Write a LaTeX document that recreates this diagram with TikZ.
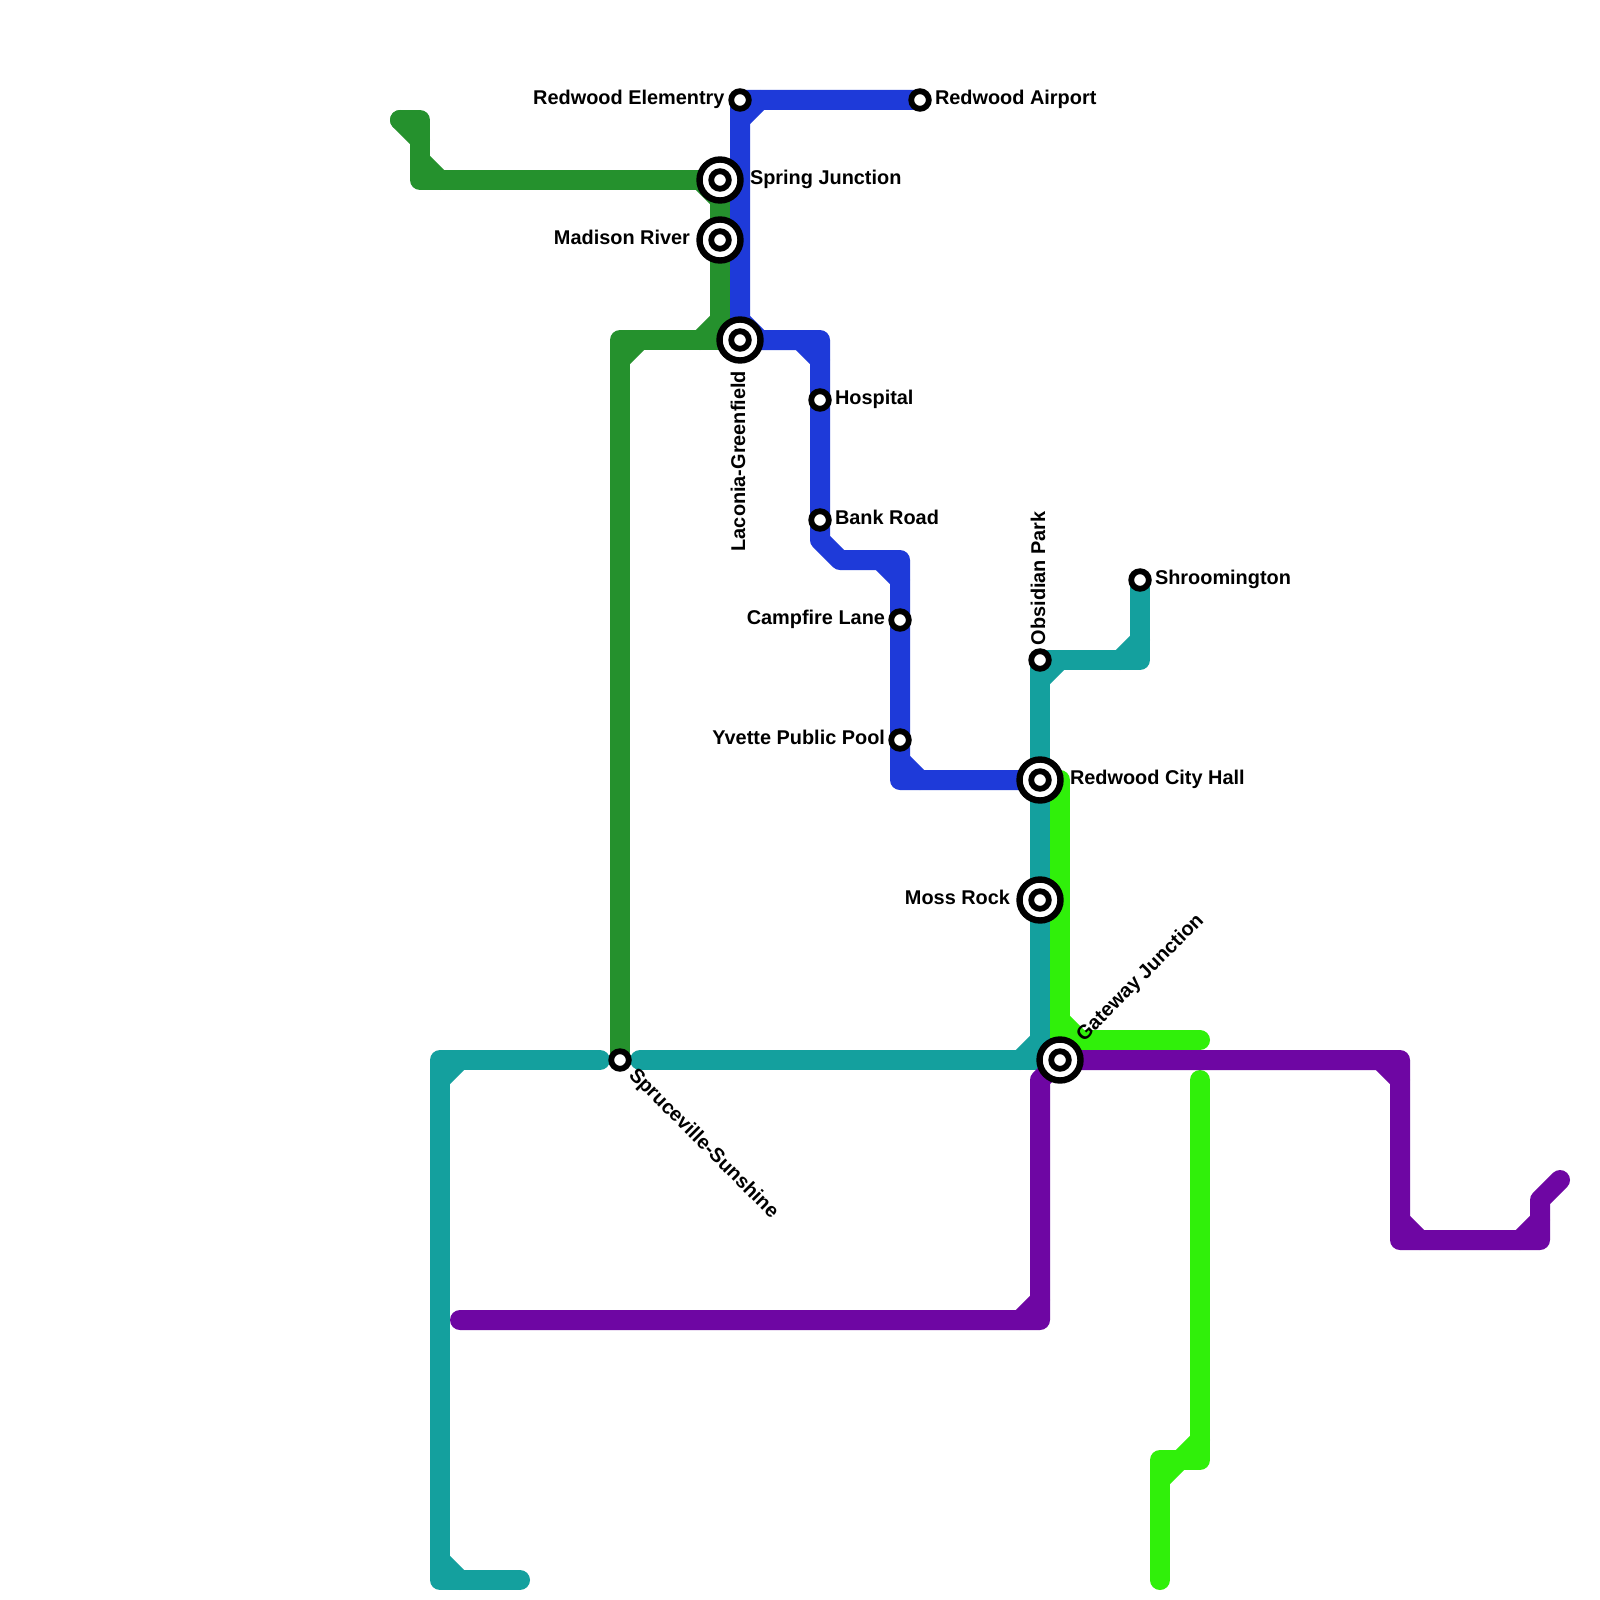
\documentclass[tikz,border=0pt]{standalone}
\usepackage{fontspec}
\setmainfont{Liberation Sans}
\usetikzlibrary{backgrounds,calc}
\definecolor{lgreen}{RGB}{37,145,45}
\definecolor{lblue}{RGB}{30,58,217}
\definecolor{lteal}{RGB}{20,160,158}
\definecolor{llime}{RGB}{48,240,10}
\definecolor{lpurple}{RGB}{110,6,163}
\tikzset{
  stn/.style={circle,draw=black,fill=white,line width=5.8pt,minimum size=17.6pt,inner sep=0pt},
  ichg/.style={circle,draw=black,fill=white,line width=6.4pt,minimum size=41pt,inner sep=0pt},
  lbl/.style={font=\bfseries\fontsize{19.9}{22}\selectfont,inner sep=0pt,outer sep=0pt},
  metro/.style={line width=20pt,line cap=round,line join=round}
}
\newcommand\bendcut[3]{\draw ($(#1)+(#2)$) -- ($(#1)+(#3)$);}
\begin{document}
\begin{tikzpicture}[x=1pt,y=-1pt]
\useasboundingbox (0,0) rectangle (1600,1600);
% stations
\node[stn] (elem) at (740,100) {};
\node[stn] (airport) at (920,100) {};
\node[ichg] (spring) at (720,180) {};
\node[stn] (springI) at (spring) {};
\node[ichg] (madison) at (720,240) {};
\node[stn] (madisonI) at (madison) {};
\node[ichg] (laconia) at (740,340) {};
\node[stn] (laconiaI) at (laconia) {};
\node[stn] (hospital) at (820,400) {};
\node[stn] (bank) at (820,520) {};
\node[stn] (campfire) at (900,620) {};
\node[stn] (yvette) at (900,740) {};
\node[ichg] (cityhall) at (1040,780) {};
\node[stn] (cityhallI) at (cityhall) {};
\node[ichg] (moss) at (1040,900) {};
\node[stn] (mossI) at (moss) {};
\node[stn] (obsidian) at (1040,660) {};
\node[stn] (shroom) at (1140,580) {};
\node[ichg] (gateway) at (1060,1060) {};
\node[stn] (gatewayI) at (gateway) {};
\node[stn] (spruce) at (620,1060) {};
% labels
\node[lbl,anchor=base east] (tElem) at (724.5,105) {Redwood Elementry};
\node[lbl,anchor=base west] (tAirport) at (935,105) {Redwood Airport};
\node[lbl,anchor=base west] (tSpring) at (750,184.5) {Spring Junction};
\node[lbl,anchor=base east] (tMadison) at (690,244.5) {Madison River};
\node[lbl,anchor=base east,rotate=90] (tLaconia) at (745,371) {Laconia-Greenfield};
\node[lbl,anchor=base west] (tHospital) at (835,404.5) {Hospital};
\node[lbl,anchor=base west] (tBank) at (835,524.5) {Bank Road};
\node[lbl,anchor=base east] (tCampfire) at (885,624.5) {Campfire Lane};
\node[lbl,anchor=base east] (tYvette) at (885,744.5) {Yvette Public Pool};
\node[lbl,anchor=base west] (tCity) at (1070,784.5) {Redwood City Hall};
\node[lbl,anchor=base east] (tMoss) at (1010,904.5) {Moss Rock};
\node[lbl,anchor=base west,rotate=90] (tObsidian) at (1045,645) {Obsidian Park};
\node[lbl,anchor=base west] (tShroom) at (1155,584.5) {Shroomington};
\node[lbl,anchor=base west,rotate=45] (tGateway) at (1084,1042) {Gateway Junction};
\node[lbl,anchor=base west,rotate=-45] (tSpruce) at (628,1076) {Spruceville-Sunshine};
% free ends and bends
\coordinate (g1) at (400,120); \coordinate (g2) at (420,120); \coordinate (g3) at (420,180);
\coordinate (g4) at (720,340); \coordinate (g5) at (620,340);
\coordinate (b1) at (740,340); \coordinate (b2) at (820,340); \coordinate (b3) at (820,540);
\coordinate (b4) at (840,560); \coordinate (b5) at (900,560); \coordinate (b6) at (900,780);
\coordinate (t1) at (1140,660); \coordinate (t2) at (1040,660); \coordinate (t3) at (1040,1060);
\coordinate (t4) at (640,1060); \coordinate (t5) at (600,1060); \coordinate (t6) at (440,1060);
\coordinate (t7) at (440,1580); \coordinate (t8) at (520,1580);
\coordinate (l1) at (1060,780); \coordinate (l2) at (1060,1040); \coordinate (l3) at (1200,1040);
\coordinate (l4) at (1200,1080); \coordinate (l5) at (1200,1460); \coordinate (l6) at (1160,1460);
\coordinate (l7) at (1160,1580);
\coordinate (p1) at (460,1320); \coordinate (p2) at (1040,1320); \coordinate (p3) at (1040,1080);
\coordinate (p4) at (1400,1060); \coordinate (p5) at (1400,1240); \coordinate (p6) at (1540,1240);
\coordinate (p7) at (1540,1200); \coordinate (p8) at (1560,1180);
\begin{pgfonlayer}{background}
\fill[white] (0,0) rectangle (1600,1600);
\begin{scope}[metro,draw=lgreen]
\draw (g1) -- (g2) -- (g3) -- (spring.center) -- (g4) -- (laconia.center);
\draw (g4) -- (g5) -- (spruce.center);
\bendcut{g2}{-20,0}{0,20}
\bendcut{g3}{0,-20}{20,0}
\bendcut{spring.center}{-20,0}{0,20}
\bendcut{g4}{-20,0}{0,-20}
\bendcut{g5}{0,20}{20,0}
\end{scope}
\begin{scope}[metro,draw=lteal]
\draw (shroom.center) -- (t1) -- (t2) -- (t3) -- (t4);
\draw (t5) -- (t6) -- (t7) -- (t8);
\bendcut{t1}{0,-20}{-20,0}
\bendcut{t2}{20,0}{0,20}
\bendcut{t3}{0,-20}{-20,0}
\bendcut{t6}{20,0}{0,20}
\bendcut{t7}{0,-20}{20,0}
\end{scope}
\begin{scope}[metro,draw=lblue]
\draw (airport.center) -- (elem.center) -- (b1) -- (b2) -- (b3) -- (b4) -- (b5) -- (b6) -- (cityhall.center);
\bendcut{elem.center}{0,20}{20,0}
\bendcut{b1}{0,-20}{20,0}
\bendcut{b2}{-20,0}{0,20}
\bendcut{b5}{-20,0}{0,20}
\bendcut{b6}{0,-20}{20,0}
\end{scope}
\begin{scope}[metro,draw=llime]
\draw (l1) -- (l2) -- (l3);
\draw (l2) -- (gateway.center);
\draw (l4) -- (l5) -- (l6) -- (l7);
\bendcut{l2}{0,-20}{20,0}
\bendcut{l5}{0,-20}{-20,0}
\bendcut{l6}{20,0}{0,20}
\end{scope}
\begin{scope}[metro,draw=lpurple]
\draw (p1) -- (p2) -- (p3) -- (gateway.center) -- (p4) -- (p5) -- (p6) -- (p7) -- (p8);
\bendcut{p2}{-20,0}{0,-20}
\bendcut{p4}{-20,0}{0,20}
\bendcut{p5}{0,-20}{20,0}
\bendcut{p6}{-20,0}{0,-20}
\end{scope}
\end{pgfonlayer}
\end{tikzpicture}
\end{document}
